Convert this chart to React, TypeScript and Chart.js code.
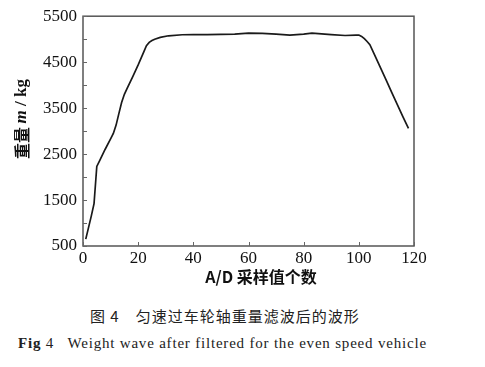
import React, { useEffect, useRef } from "react";
import { Chart, registerables } from "chart.js";

Chart.register(...registerables);

// A/D sample index (x) and filtered weight in kg (y)
const sampleIndex = [1, 2, 3, 4, 5, 6, 8, 10, 11, 12, 13, 14, 15, 16, 18, 20, 22, 23, 24, 25, 26, 28, 31, 36, 40, 45, 50, 55, 60, 65, 70, 75, 80, 83, 90, 95, 99, 100, 101, 102, 103, 104, 106, 108, 110, 112, 114, 116, 118];
const weightKg = [650, 900, 1150, 1420, 2230, 2350, 2600, 2830, 2950, 3130, 3380, 3620, 3800, 3930, 4180, 4440, 4720, 4860, 4930, 4970, 5000, 5040, 5074, 5096, 5100, 5100, 5105, 5110, 5130, 5125, 5110, 5090, 5110, 5130, 5100, 5080, 5090, 5090, 5060, 5010, 4950, 4880, 4620, 4360, 4100, 3830, 3570, 3310, 3060];

const xTicks = [0, 20, 40, 60, 80, 100, 120];
const yTicks = [500, 1500, 2500, 3500, 4500, 5500];
const yMinorTicks = [1000, 2000, 3000, 4000, 5000];

const xTitle = "A/D 采样值个数";
const yTitleParts = ["重量 ", "m", " / kg"];
const caption1 = "图 4　匀速过车轮轴重量滤波后的波形";
const caption2Bold = "Fig";
const caption2Rest = " 4   Weight wave after filtered for the even speed vehicle";

const SERIF = '"Liberation Serif", "DejaVu Serif", serif';
const CJK = '"Noto Sans CJK SC", "Liberation Serif", serif';

const framePlugin = {
  id: "frame",
  afterDraw(chart: any) {
    const { ctx, chartArea, scales } = chart;
    const { left, top, right, bottom } = chartArea;
    const x = scales.x;
    const y = scales.y;
    ctx.save();
    ctx.strokeStyle = "#555";
    ctx.lineWidth = 1.5;
    ctx.strokeRect(left, top, right - left, bottom - top);
    ctx.lineWidth = 1;
    ctx.strokeStyle = "#666";
    const tl = 4;
    [...yTicks, ...yMinorTicks].forEach((v) => {
      const py = Math.round(y.getPixelForValue(v)) + 0.5;
      ctx.beginPath();
      ctx.moveTo(left, py);
      ctx.lineTo(left + tl, py);
      ctx.stroke();
    });
    xTicks.forEach((v) => {
      const px = Math.round(x.getPixelForValue(v)) + 0.5;
      ctx.beginPath();
      ctx.moveTo(px, bottom);
      ctx.lineTo(px, bottom - tl);
      ctx.stroke();
    });

    // x title
    ctx.fillStyle = "#111";
    ctx.textBaseline = "middle";
    ctx.textAlign = "center";
    ctx.font = `bold 16px ${CJK}`;
    ctx.fillText(xTitle, 261, 277);

    // y title (rotated, mixed fonts)
    const fonts = [`bold 16px ${CJK}`, `italic bold 17px ${SERIF}`, `bold 17px ${SERIF}`];
    let total = 0;
    const widths = yTitleParts.map((t, i) => {
      ctx.font = fonts[i];
      const w = ctx.measureText(t).width;
      total += w;
      return w;
    });
    ctx.translate(22, 119);
    ctx.rotate(-Math.PI / 2);
    ctx.textAlign = "left";
    let cx = -total / 2;
    yTitleParts.forEach((t, i) => {
      ctx.font = fonts[i];
      ctx.fillText(t, cx, 0);
      cx += widths[i];
    });
    ctx.restore();
  },
};

export default function App() {
  const ref = useRef<HTMLCanvasElement | null>(null);

  useEffect(() => {
    if (!ref.current) return;
    const chart = new Chart(ref.current, {
      type: "line",
      data: {
        datasets: [
          {
            data: sampleIndex.map((v, i) => ({ x: v, y: weightKg[i] })),
            borderColor: "#1a1a1a",
            borderWidth: 1.7,
            pointRadius: 0,
            tension: 0,
            fill: false,
          },
        ],
      },
      options: {
        animation: false,
        responsive: false,
        events: [],
        layout: { padding: { top: 10, right: 71, left: 0, bottom: 0 } },
        plugins: { legend: { display: false }, tooltip: { enabled: false }, title: { display: false } },
        scales: {
          x: {
            type: "linear",
            min: 0,
            max: 120,
            grid: { display: false, drawTicks: false },
            border: { display: false },
            afterBuildTicks: (axis: any) => {
              axis.ticks = xTicks.map((v) => ({ value: v }));
            },
            afterFit: (scale: any) => {
              scale.height = 54;
            },
            ticks: {
              color: "#111",
              padding: 2,
              maxRotation: 0,
              font: { family: SERIF, size: 17 },
              callback: (v: any) => String(v),
            },
          },
          y: {
            type: "linear",
            min: 500,
            max: 5500,
            grid: { display: false, drawTicks: false },
            border: { display: false },
            afterBuildTicks: (axis: any) => {
              axis.ticks = yTicks.map((v) => ({ value: v }));
            },
            afterFit: (scale: any) => {
              scale.width = 83;
            },
            ticks: {
              color: "#111",
              padding: 6,
              font: { family: SERIF, size: 17 },
              callback: (v: any) => String(v),
            },
          },
        },
      },
      plugins: [framePlugin],
    } as any);
    return () => chart.destroy();
  }, []);

  return (
    <div style={{ position: "fixed", left: 0, top: 0, width: 485, height: 367, background: "#fff" }}>
      <canvas ref={ref} width={485} height={300} style={{ display: "block" }} />
      <div
        style={{
          position: "absolute",
          left: 90,
          top: 306,
          fontFamily: CJK,
          fontSize: 15,
          letterSpacing: 1,
          color: "#222",
          whiteSpace: "pre",
          lineHeight: "20px",
        }}
      >
        {caption1}
      </div>
      <div
        style={{
          position: "absolute",
          left: 18,
          top: 333,
          fontFamily: SERIF,
          fontSize: 15,
          letterSpacing: 0.8,
          color: "#222",
          whiteSpace: "pre",
          lineHeight: "20px",
        }}
      >
        <b>{caption2Bold}</b>
        {caption2Rest}
      </div>
    </div>
  );
}
